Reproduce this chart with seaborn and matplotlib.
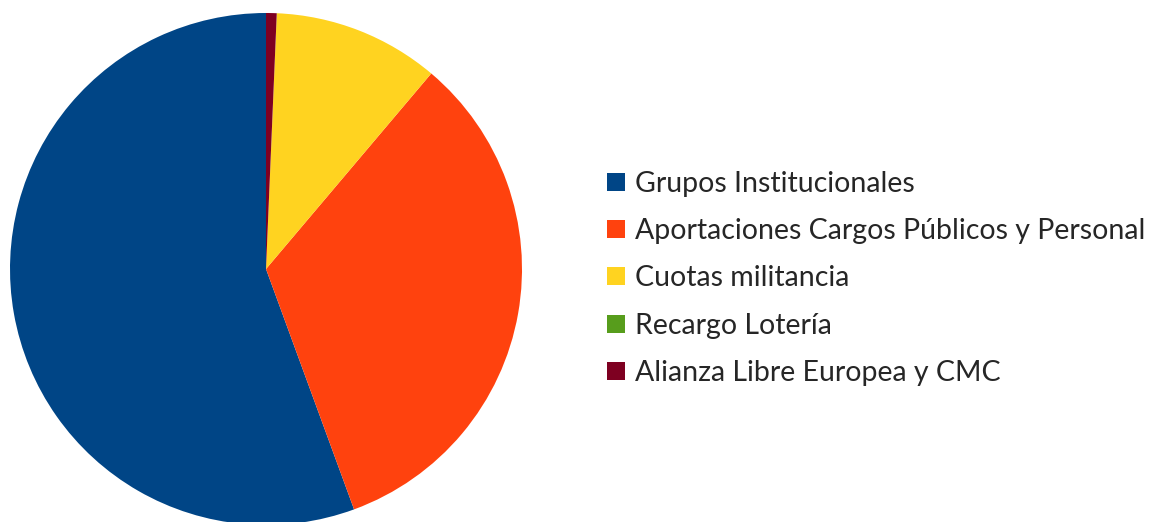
import matplotlib
matplotlib.use("Agg")
import matplotlib.pyplot as plt
from matplotlib.lines import Line2D
import seaborn as sns

sns.set_style("white")
plt.rcParams['font.family'] = ['Lato', 'DejaVu Sans']

categorias = ["Grupos Institucionales",
              "Aportaciones Cargos Públicos y Personal",
              "Cuotas militancia",
              "Recargo Lotería",
              "Alianza Libre Europea y CMC"]
porcentajes = [55.6, 33.25, 10.5, 0.0, 0.67]
colores = ["#004586", "#ff420e", "#ffd320", "#579d1c", "#7e0021"]

fig = plt.figure(figsize=(11.49, 5.22), dpi=100)
ax = fig.add_axes([10/1149, -3/522, 512/1149, 512/522])
ax.pie(porcentajes, colors=colores, startangle=90, counterclock=True,
       wedgeprops=dict(linewidth=0))
ax.set_xlim(-1, 1)
ax.set_ylim(-1, 1)
ax.set_aspect('equal')
ax.axis('off')

# leyenda con cuadrados
handles = [Line2D([], [], marker='s', linestyle='none', markersize=12.5,
                  markerfacecolor=c, markeredgewidth=0) for c in colores]
fig.legend(handles, categorias, loc='center left',
           bbox_to_anchor=(595/1149, 0.467), frameon=False,
           fontsize=20.5, labelspacing=0.75, handlelength=0.7,
           handletextpad=0.3, borderaxespad=0)

fig.savefig("out.png", dpi=100)
